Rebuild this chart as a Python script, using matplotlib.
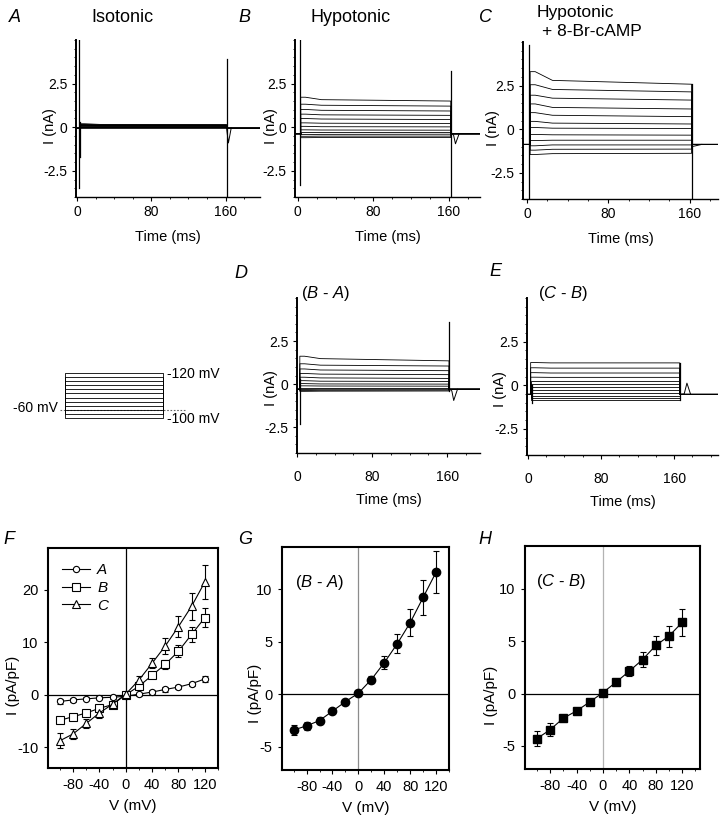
import matplotlib
matplotlib.use("Agg")
import matplotlib.pyplot as plt
from matplotlib.lines import Line2D
from matplotlib.ticker import MultipleLocator

plt.rcParams["font.family"] = ["Liberation Sans", "DejaVu Sans"]
plt.rcParams["mathtext.fontset"] = "custom"
plt.rcParams["mathtext.it"] = "Liberation Sans:italic"
plt.rcParams["mathtext.rm"] = "Liberation Sans"
plt.rcParams["axes.unicode_minus"] = False

W, H = 720, 827

# ---- step protocol (mV) ----
step_mv = [-100, -80, -60, -40, -20, 0, 20, 40, 60, 80, 100, 120]
hold_mv = -60

# ---- current traces (nA), one value per voltage step, read at ~8, ~25 and ~160 ms ----
iso_start = [-0.02, 0.0, 0.02, 0.03, 0.05, 0.07, 0.08, 0.1, 0.12, 0.14, 0.16, 0.2]
iso_mid = [-0.02, 0.0, 0.02, 0.03, 0.05, 0.06, 0.07, 0.09, 0.1, 0.12, 0.14, 0.16]
iso_end = [-0.02, 0.0, 0.02, 0.03, 0.05, 0.06, 0.07, 0.08, 0.1, 0.11, 0.13, 0.15]

hypo_start = [-0.6, -0.52, -0.42, -0.3, -0.15, 0.05, 0.25, 0.5, 0.75, 1.02, 1.32, 1.72]
hypo_mid = [-0.59, -0.51, -0.41, -0.3, -0.16, 0.03, 0.23, 0.47, 0.71, 0.97, 1.26, 1.58]
hypo_end = [-0.59, -0.51, -0.4, -0.3, -0.17, 0.02, 0.21, 0.44, 0.68, 0.93, 1.21, 1.5]

camp_start = [-1.45, -1.2, -0.95, -0.65, -0.3, 0.1, 0.45, 0.95, 1.45, 1.95, 2.55, 3.3]
camp_mid = [-1.4, -1.15, -0.9, -0.63, -0.32, 0.06, 0.35, 0.8, 1.25, 1.78, 2.28, 2.8]
camp_end = [-1.38, -1.14, -0.9, -0.63, -0.34, 0.04, 0.3, 0.72, 1.16, 1.67, 2.14, 2.58]

ba_start = [-0.42, -0.37, -0.31, -0.22, -0.1, 0.03, 0.2, 0.4, 0.62, 0.88, 1.18, 1.62]
ba_mid = [-0.41, -0.36, -0.3, -0.22, -0.11, 0.01, 0.17, 0.36, 0.58, 0.82, 1.1, 1.48]
ba_end = [-0.4, -0.35, -0.3, -0.22, -0.12, 0.0, 0.15, 0.33, 0.55, 0.78, 1.05, 1.35]

cb_start = [-0.82, -0.72, -0.6, -0.45, -0.3, -0.12, 0.05, 0.25, 0.46, 0.72, 1.0, 1.3]
cb_mid = [-0.82, -0.72, -0.6, -0.45, -0.3, -0.12, 0.05, 0.25, 0.45, 0.7, 0.98, 1.28]
cb_end = [-0.82, -0.72, -0.6, -0.45, -0.3, -0.12, 0.05, 0.25, 0.45, 0.7, 0.98, 1.28]

holding_na = {"A": -0.05, "B": -0.36, "C": -0.87, "D": -0.3, "E": -0.52}
step_off_ms = {"A": 161, "B": 162, "C": 162, "D": 162, "E": 166}

# capacitive spikes: (time ms, low nA, high nA)
spikes = {
    "A": [(2, -3.5, 5.0), (3.5, -1.7, 0.3), (161, -4.0, 3.9)],
    "B": [(2, -3.3, 5.0), (162, -4.0, 3.2)],
    "C": [(2, -4.0, 4.85), (162, -4.0, 2.58)],
    "D": [(3, -2.3, 0.3), (162, -0.4, 3.6)],
    "E": [(4, -1.0, 0.0), (166, -0.82, 1.28)],
}
# small tail deflections after the step
tails = {
    "A": ([161, 163, 166], [-0.05, -0.9, -0.05]),
    "B": ([163, 165, 167, 171], [-0.36, -0.45, -0.95, -0.36]),
    "C": ([162, 166, 172], [-1.0, -0.95, -0.87]),
    "D": ([163, 165, 167, 171], [-0.3, -0.4, -0.95, -0.3]),
    "E": ([167, 171, 174, 178], [-0.52, -0.5, 0.12, -0.52]),
}
xlims = {"A": (-1, 197), "B": (-3, 193), "C": (-4, 188), "D": (0, 195), "E": (-1, 208)}

# ---- I-V data (pA/pF) ----
iv_v = [-100, -80, -60, -40, -20, 0, 20, 40, 60, 80, 100, 120]
iv_iso = [-1.3, -1.0, -0.8, -0.6, -0.5, -0.3, 0.1, 0.5, 1.0, 1.45, 2.1, 3.0]
iv_iso_err = [0.4, 0.4, 0.3, 0.3, 0.3, 0.3, 0.3, 0.3, 0.4, 0.4, 0.4, 0.5]
iv_hypo = [-4.9, -4.2, -3.5, -2.6, -1.9, 0.0, 1.6, 3.7, 5.8, 8.3, 11.5, 14.7]
iv_hypo_err = [0.5, 0.5, 0.5, 0.6, 0.5, 0.4, 0.6, 0.6, 0.9, 1.1, 1.5, 1.8]
iv_camp = [-8.8, -7.5, -5.5, -3.5, -1.8, 0.1, 2.8, 6.0, 9.3, 13.0, 16.9, 21.5]
iv_camp_err = [1.4, 1.0, 0.8, 0.9, 0.6, 0.4, 0.7, 1.0, 1.5, 2.0, 2.6, 3.2]
iv_ba = [-3.4, -3.0, -2.5, -1.6, -0.7, 0.1, 1.4, 3.0, 4.8, 6.8, 9.2, 11.6]
iv_ba_err = [0.5, 0.4, 0.3, 0.2, 0.2, 0.1, 0.3, 0.6, 0.9, 1.3, 1.7, 2.0]
iv_cb = [-4.3, -3.45, -2.35, -1.65, -0.8, 0.1, 1.1, 2.15, 3.25, 4.6, 5.5, 6.8]
iv_cb_err = [0.7, 0.6, 0.3, 0.2, 0.2, 0.1, 0.2, 0.5, 0.7, 0.9, 1.0, 1.3]

fig = plt.figure(figsize=(W / 100, H / 100), dpi=100)


def px_axes(left, top, right, bottom):
    return fig.add_axes([left / W, 1 - bottom / H, (right - left) / W, (bottom - top) / H])


def trace_panel(ax, key, start, mid, end, ylab_x, ylab_y, tick_pad, xlab_pad):
    t_off = step_off_ms[key]
    hold = holding_na[key]
    t0, t1 = xlims[key]
    for s, m, e in zip(start, mid, end):
        ax.plot([t0, 3, 3, 8, 25, t_off, t_off, t1],
                [hold, hold, s, s, m, e, hold, hold], color="black", lw=0.6)
    for t, lo, hi in spikes[key]:
        ax.plot([t, t], [lo, hi], color="black", lw=0.9)
    tt, ty = tails[key]
    ax.plot(tt, ty, color="black", lw=0.7)
    ax.set_xlim(*xlims[key])
    ax.set_ylim(-4, 5)
    for side in ("top", "right"):
        ax.spines[side].set_visible(False)
    ax.spines["left"].set_linewidth(1.4)
    ax.spines["bottom"].set_linewidth(1.0)
    ax.set_xticks([0, 80, 160])
    ax.xaxis.set_minor_locator(MultipleLocator(20))
    ax.set_yticks([-2.5, 0, 2.5])
    ax.set_yticklabels(["-2.5", "0", "2.5"])
    ax.yaxis.set_minor_locator(MultipleLocator(0.5))
    ax.tick_params(labelsize=10, length=3, width=0.8, pad=3)
    ax.tick_params(axis="x", pad=tick_pad)
    ax.tick_params(which="minor", length=1.5, width=0.6)
    ax.set_xlabel("Time (ms)", fontsize=10.5, labelpad=xlab_pad)
    ax.set_ylabel("I (nA)", fontsize=10.5)
    ax.yaxis.set_label_coords(ylab_x, ylab_y)


axA = px_axes(76, 40, 260, 197)
trace_panel(axA, "A", iso_start, iso_mid, iso_end, -0.105, 0.45, 3, 8)
axB = px_axes(295, 40, 480, 197)
trace_panel(axB, "B", hypo_start, hypo_mid, hypo_end, -0.092, 0.45, 3, 8)
axC = px_axes(523, 42, 718, 199)
trace_panel(axC, "C", camp_start, camp_mid, camp_end, -0.118, 0.45, 3, 8)
axD = px_axes(297, 298, 480, 453)
trace_panel(axD, "D", ba_start, ba_mid, ba_end, -0.104, 0.42, 9, 7)
axE = px_axes(527, 298, 718, 455)
trace_panel(axE, "E", cb_start, cb_mid, cb_end, -0.105, 0.42, 9, 7)

axD.text(0.02, 1.03, r"($\mathit{B}$ - $\mathit{A}$)", transform=axD.transAxes,
         fontsize=12, va="center", ha="left")
axE.text(0.06, 1.03, r"($\mathit{C}$ - $\mathit{B}$)", transform=axE.transAxes,
         fontsize=12, va="center", ha="left")

# titles and panel letters
fig.text(122 / W, 1 - 18 / H, "Isotonic", fontsize=13, ha="center", va="center")
fig.text(351 / W, 1 - 18 / H, "Hypotonic", fontsize=13, ha="center", va="center")
fig.text(537 / W, 1 - 13 / H, "Hypotonic", fontsize=12.5, ha="left", va="center")
fig.text(542 / W, 1 - 31 / H, "+ 8-Br-cAMP", fontsize=12.5, ha="left", va="center")
for letter, x, y in [("A", 15, 18), ("B", 244, 18), ("C", 485, 18), ("D", 241, 273),
                     ("E", 495, 272), ("F", 9, 540), ("G", 245, 539), ("H", 485, 539)]:
    fig.text(x / W, 1 - y / H, letter, fontsize=13, style="italic", ha="center", va="center")

# ---- voltage protocol inset ----
axP = px_axes(55, 365, 190, 425)
axP.set_xlim(-16.3, 204)
axP.set_ylim(-134, 159)
axP.axis("off")
axP.plot([-8, 196], [hold_mv, hold_mv], color="0.4", lw=0.8, ls=(0, (1.5, 1.5)))
for v in step_mv:
    axP.plot([0, 0, 160, 160], [hold_mv, v, v, hold_mv], color="black", lw=0.6)
axP.text(-12, hold_mv + 8, "-60 mV", fontsize=10, ha="right", va="center")
axP.text(166, 115, "-120 mV", fontsize=10, ha="left", va="center")
axP.text(166, -103, "-100 mV", fontsize=10, ha="left", va="center")


# ---- I-V panels ----
def iv_style(ax, ylim, yticks, vline_color, ylab_x, ylab_y):
    ax.axhline(0, color="black", lw=0.9, zorder=1)
    ax.axvline(0, color=vline_color, lw=0.9, zorder=1)
    ax.set_xlim(-118, 140)
    ax.set_ylim(*ylim)
    ax.set_xticks([-80, -40, 0, 40, 80, 120])
    ax.xaxis.set_minor_locator(MultipleLocator(20))
    ax.set_yticks(yticks)
    for s in ax.spines.values():
        s.set_linewidth(1.5)
    ax.tick_params(labelsize=10.5, length=3, width=0.8, pad=4)
    ax.tick_params(which="minor", length=1.5, width=0.6)
    ax.set_xlabel("V (mV)", fontsize=11, labelpad=5)
    ax.set_ylabel("I (pA/pF)", fontsize=11)
    ax.yaxis.set_label_coords(ylab_x, ylab_y)


axF = px_axes(48, 548, 218, 768)
iv_style(axF, (-14, 28), [-10, 0, 10, 20], "black", -0.165, 0.377)
ekw = dict(color="black", lw=0.8, capsize=2.5, elinewidth=0.8, capthick=0.8,
           markerfacecolor="white", markeredgecolor="black", markeredgewidth=0.8)
axF.errorbar(iv_v, iv_iso, yerr=iv_iso_err, marker="o", ms=4.5, **ekw)
axF.errorbar(iv_v, iv_hypo, yerr=iv_hypo_err, marker="s", ms=5.5, **ekw)
axF.errorbar(iv_v, iv_camp, yerr=iv_camp_err, marker="^", ms=6, **ekw)
handles = [Line2D([], [], color="black", lw=0.8, marker=m, ms=ms, markerfacecolor="white",
                  markeredgewidth=0.8) for m, ms in (("o", 4.5), ("s", 5.5), ("^", 6))]
axF.legend(handles, ["A", "B", "C"], loc="upper left", frameon=False,
           prop={"style": "italic", "size": 11}, handlelength=1.8, handletextpad=0.5,
           labelspacing=0.25, borderaxespad=0.3, bbox_to_anchor=(0.02, 0.98))

axG = px_axes(282, 547, 449, 770)
iv_style(axG, (-7.2, 14), [-5, 0, 5, 10], "0.55", -0.12, 0.345)
axG.errorbar(iv_v, iv_ba, yerr=iv_ba_err, marker="o", ms=6, color="black", lw=0.8,
             capsize=2.5, elinewidth=0.8, capthick=0.8)
axG.text(0.08, 0.84, r"($\mathit{B}$ - $\mathit{A}$)", transform=axG.transAxes,
         fontsize=12, va="center", ha="left")

axH = px_axes(525, 546, 700, 769)
iv_style(axH, (-7.2, 14.1), [-5, 0, 5, 10], "0.7", -0.154, 0.33)
axH.set_xlim(-118, 147)
axH.errorbar(iv_v, iv_cb, yerr=iv_cb_err, marker="s", ms=6, color="black", lw=0.8,
             capsize=2.5, elinewidth=0.8, capthick=0.8)
axH.text(0.06, 0.84, r"($\mathit{C}$ - $\mathit{B}$)", transform=axH.transAxes,
         fontsize=12, va="center", ha="left")

fig.savefig("out.png", dpi=100)
